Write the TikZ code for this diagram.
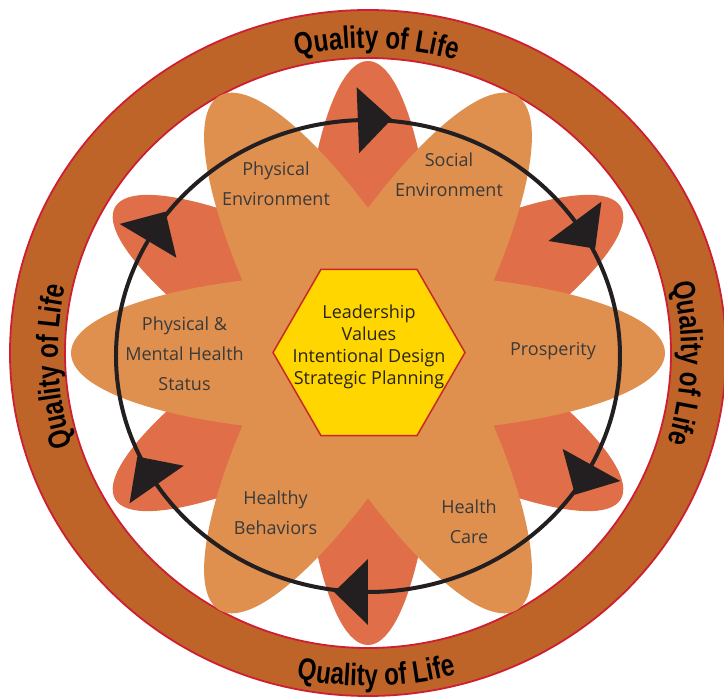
\documentclass[tikz,border=0pt]{standalone}
\usepackage{fontspec}
\usetikzlibrary{shapes.geometric,decorations.text}
\newfontfamily\labelfont{Open Sans}
\newfontfamily\qolfont{Liberation Sans}[FakeStretch=0.78]
\definecolor{ringbrown}{RGB}{191,100,40}
\definecolor{ringred}{RGB}{205,30,50}
\definecolor{petaldark}{RGB}{224,110,72}
\definecolor{petallight}{RGB}{224,144,78}
\definecolor{hexyellow}{RGB}{255,214,0}
\definecolor{hexred}{RGB}{200,40,40}
\definecolor{labelgray}{RGB}{58,58,58}
\definecolor{hextextcol}{RGB}{40,36,28}
\definecolor{arrowblack}{RGB}{35,31,32}
\begin{document}
\begin{tikzpicture}[x=1pt,y=1pt,
  lbl/.style={font=\labelfont\fontsize{18}{30}\selectfont, text=labelgray, align=center, inner sep=0pt},
  hextext/.style={font=\labelfont\fontsize{18}{22}\selectfont, text=hextextcol, align=center, inner sep=0pt},
  hexagon/.style={regular polygon, regular polygon sides=6, minimum size=192pt, inner sep=0pt, fill=hexyellow, draw=hexred, line width=1.5pt},
  qol/.style={decorate, decoration={text along path, text align=center, text color=black,
     text={|\qolfont\bfseries\fontsize{31}{31}\selectfont|Quality of Life}}},
  darkpetal/.style={fill=petaldark},
  lightpetal/.style={fill=petallight},
  arrowtri/.style={fill=arrowblack},
  cycleline/.style={draw=arrowblack, line width=4pt},
  ringedge/.style={draw=ringred, line width=1.8pt}
]
\useasboundingbox (-368,-345) rectangle (356,353);
\fill[white] (-368,-345) rectangle (356,353);
% ring
\fill[ringbrown, even odd rule] (0,0) ellipse[x radius=358, y radius=343] (0,0) ellipse[x radius=303, y radius=295];
\path[ringedge] (0,0) ellipse[x radius=358, y radius=343];
\path[ringedge] (0,0) ellipse[x radius=303, y radius=295];
% petals
\foreach \pa in {30,90,150} {\fill[darkpetal, rotate=\pa] (0,0) ellipse[x radius=292, y radius=70];}
\foreach \pa in {0,60,120} {\fill[lightpetal, rotate=\pa] (0,0) ellipse[x radius=297, y radius=80];}
% hexagon
\node[hexagon] (hex) at (1,0.5) {};
\node[hextext] (core) at (1,6) {Leadership\\Values\\Intentional Design\\Strategic Planning};
% cycle
\path[cycleline] (0,-3) ellipse[x radius=252, y radius=236];
\foreach \ta in {92.3,34.8,-27.5,-90,-147,150.8} {
  \pgfmathsetmacro{\ang}{atan2(-236*cos(\ta), 252*sin(\ta))}
  \fill[arrowtri, shift={(0,-3)}, shift={(\ta:252 and 236)}, rotate=\ang] (0,33) -- (34,0) -- (0,-33) -- cycle;
}
% labels
\node[lbl] (physenv) at (-92,169) {Physical\\Environment};
\node[lbl] (socenv) at (81,178) {Social\\Environment};
\node[lbl] (pmh) at (-183.5,-1) {Physical \&\\Mental Health\\Status};
\node[lbl] (prosp) at (185,2) {Prosperity};
\node[lbl] (healthyb) at (-92.5,-159.5) {Healthy\\Behaviors};
\node[lbl] (hcare) at (101,-169) {Health\\Care};
% quality of life
\path[qol] (148.36:314 and 305) arc[start angle=148.36, end angle=28.36, x radius=314, y radius=305];
\path[qol] (58.1:313 and 305) arc[start angle=58.1, end angle=-61.9, x radius=313, y radius=305];
\path[qol] (242.5:310 and 302) arc[start angle=242.5, end angle=122.5, x radius=310, y radius=302];
\path[qol] (211.5:342 and 333) arc[start angle=211.5, end angle=331.5, x radius=342, y radius=333];
\end{tikzpicture}
\end{document}
